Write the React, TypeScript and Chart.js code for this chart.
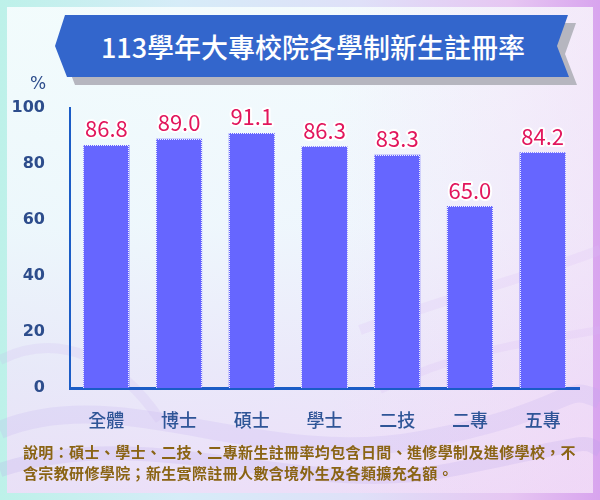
import React, { useEffect, useRef } from "react";
import { Chart, registerables } from "chart.js";

Chart.register(...registerables);

const categories = ["全體", "博士", "碩士", "學士", "二技", "二專", "五專"];
const rates = [86.8, 89.0, 91.1, 86.3, 83.3, 65.0, 84.2];
const yMin = 0;
const yMax = 100;
const yStep = 20;
const titleText = "113學年大專校院各學制新生註冊率";
const unitText = "%";
const noteLine1 = "說明：碩士、學士、二技、二專新生註冊率均包含日間、進修學制及進修學校，不";
const noteLine2 = "含宗教研修學院；新生實際註冊人數含境外生及各類擴充名額。";

const CJK = '"Noto Sans CJK TC", "Noto Sans", sans-serif';

const barDecor = {
  id: "barDecor",
  afterDatasetsDraw(chart: any) {
    const ctx = chart.ctx;
    const meta = chart.getDatasetMeta(0);
    ctx.save();
    ctx.strokeStyle = "rgba(255,255,255,0.9)";
    ctx.lineWidth = 1;
    ctx.setLineDash([1, 1]);
    meta.data.forEach((bar: any) => {
      const p = bar.getProps(["x", "y", "base", "width"], true);
      const l = Math.round(p.x - p.width / 2) + 0.5;
      const r = Math.round(p.x + p.width / 2) - 0.5;
      const t = Math.round(p.y) + 0.5;
      const b = Math.round(p.base);
      ctx.beginPath();
      ctx.moveTo(l, b);
      ctx.lineTo(l, t);
      ctx.lineTo(r, t);
      ctx.lineTo(r, b);
      ctx.stroke();
    });
    ctx.setLineDash([]);
    ctx.font = `22px ${CJK}`;
    ctx.textAlign = "center";
    ctx.textBaseline = "alphabetic";
    ctx.lineJoin = "round";
    meta.data.forEach((bar: any, i: number) => {
      const p = bar.getProps(["x", "y"], true);
      const txt = rates[i].toFixed(1);
      const y = p.y - 7.5;
      ctx.lineWidth = 4;
      ctx.strokeStyle = "rgba(255,255,255,0.95)";
      ctx.strokeText(txt, p.x, y);
      ctx.fillStyle = "#E2165C";
      ctx.fillText(txt, p.x, y);
    });
    ctx.restore();
  },
};

export default function App() {
  const canvasRef = useRef<HTMLCanvasElement | null>(null);

  useEffect(() => {
    if (!canvasRef.current) return;
    const chart = new Chart(canvasRef.current, {
      type: "bar",
      data: {
        labels: categories,
        datasets: [
          {
            data: rates,
            backgroundColor: "#6666FF",
            borderWidth: 0,
            barPercentage: 0.633,
            categoryPercentage: 1,
          },
        ],
      },
      options: {
        animation: false,
        responsive: false,
        maintainAspectRatio: false,
        layout: { padding: { top: 108, right: 21, bottom: 0, left: 0 } },
        plugins: {
          legend: { display: false },
          tooltip: { enabled: false },
          title: { display: false },
        },
        scales: {
          x: {
            grid: { display: false, drawTicks: false },
            border: { display: true, color: "#1B5CC6", width: 3 },
            ticks: {
              color: "#2F5597",
              font: { family: CJK, size: 18, weight: "500" },
              padding: 21,
              maxRotation: 0,
            },
            afterFit: (s: any) => {
              s.height = 112;
            },
          },
          y: {
            min: yMin,
            max: yMax,
            grid: { display: false, drawTicks: false },
            border: { display: true, color: "#1B5CC6", width: 2 },
            ticks: {
              stepSize: yStep,
              color: "#2D4D8C",
              font: { family: '"DejaVu Sans", sans-serif', size: 16, weight: "bold" },
              padding: 25,
            },
            afterFit: (s: any) => {
              s.width = 70;
            },
          },
        },
      },
      plugins: [barDecor],
    });
    return () => chart.destroy();
  }, []);

  return (
    <div
      style={{
        position: "fixed",
        left: 0,
        top: 0,
        width: 600,
        height: 500,
        overflow: "hidden",
        background:
          "linear-gradient(90deg, #bdf1e9 0%, #d6ecf8 30%, #dfe0f8 60%, #e6c6f2 85%, #d8a4ee 100%)",
      }}
    >
      <div
        style={{
          position: "absolute",
          left: 7,
          top: 7,
          width: 586,
          height: 486,
          background:
            "linear-gradient(180deg, rgba(244,252,253,0.97) 0%, rgba(240,248,253,0.93) 45%, rgba(236,232,250,0.9) 75%, rgba(238,222,248,0.9) 100%)",
        }}
      />
      <div
        style={{
          position: "absolute",
          left: 7,
          top: 7,
          width: 586,
          height: 486,
          background:
            "linear-gradient(90deg, rgba(255,255,255,0) 0%, rgba(255,255,255,0) 55%, rgba(244,214,246,0.45) 100%)",
        }}
      />
      <svg
        width={600}
        height={500}
        style={{ position: "absolute", left: 0, top: 0 }}
      >
        <path d="M0 430 C 120 380, 260 470, 420 440 S 560 380, 600 400" stroke="rgba(190,170,240,0.2)" strokeWidth={18} fill="none" />
        <path d="M0 470 C 150 420, 300 500, 450 470 S 580 440, 600 450" stroke="rgba(180,160,235,0.2)" strokeWidth={14} fill="none" />
        <path d="M0 360 C 60 330, 120 360, 160 420" stroke="rgba(200,180,240,0.18)" strokeWidth={10} fill="none" />
        <path d="M360 330 C 440 300, 520 280, 600 250" stroke="rgba(220,190,245,0.22)" strokeWidth={10} fill="none" />
        <path d="M380 390 C 460 350, 540 340, 600 330" stroke="rgba(215,185,245,0.2)" strokeWidth={8} fill="none" />
        <polygon points="73,23 576,23 565,54 577,85 75,85 63,54" fill="#B6B6BF" />
        <polygon points="65,15 568,15 557,46 569,77 67,77 55,46" fill="#3366CC" />
      </svg>
      <div
        style={{
          position: "absolute",
          left: 60,
          width: 506,
          top: 28,
          height: 38,
          lineHeight: "38px",
          textAlign: "center",
          color: "#FFFFFF",
          fontFamily: CJK,
          fontSize: 27,
          fontWeight: 500,
          whiteSpace: "nowrap",
        }}
      >
        {titleText}
      </div>
      <canvas
        ref={canvasRef}
        width={600}
        height={500}
        style={{ position: "absolute", left: 0, top: 0, width: 600, height: 500 }}
      />
      <div
        style={{
          position: "absolute",
          left: 26,
          top: 72,
          width: 24,
          height: 22,
          lineHeight: "22px",
          textAlign: "center",
          color: "#2D4D8C",
          fontFamily: '"DejaVu Sans", sans-serif',
          fontSize: 17,
        }}
      >
        {unitText}
      </div>
      <div
        style={{
          position: "absolute",
          left: 23,
          top: 441,
          color: "#8A6414",
          fontFamily: CJK,
          fontSize: 15,
          fontWeight: 700,
          lineHeight: "21px",
          letterSpacing: "0.36px",
          whiteSpace: "nowrap",
        }}
      >
        <div>{noteLine1}</div>
        <div>{noteLine2}</div>
      </div>
    </div>
  );
}
